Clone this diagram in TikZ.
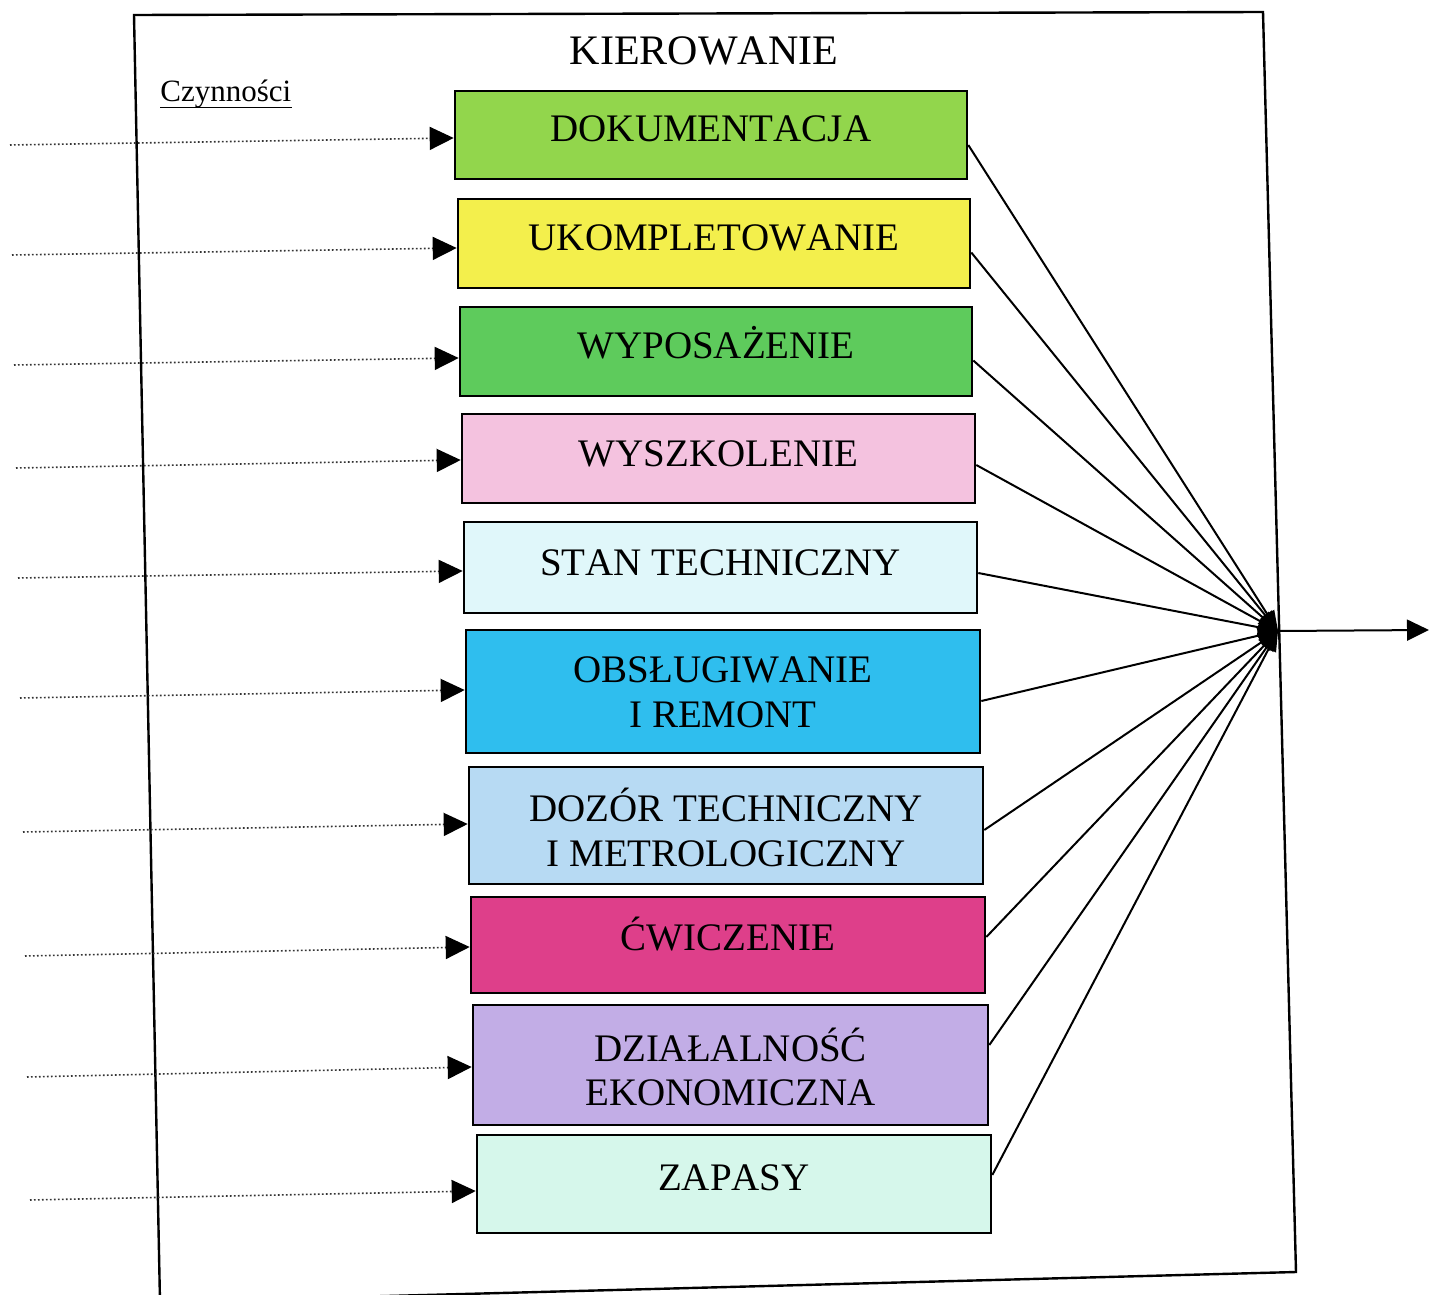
\documentclass[tikz,border=0pt]{standalone}
\usepackage{fontspec}
\setmainfont{Liberation Serif}[Kerning=Off]
\usetikzlibrary{arrows.meta,fit}

\definecolor{cDok}{HTML}{92D64C}
\definecolor{cUkom}{HTML}{F3EF4C}
\definecolor{cWyp}{HTML}{5ECB5C}
\definecolor{cWysz}{HTML}{F4C2DF}
\definecolor{cStan}{HTML}{E0F7FA}
\definecolor{cObs}{HTML}{2FBEEE}
\definecolor{cDoz}{HTML}{B7DAF3}
\definecolor{cCwi}{HTML}{DE3F8A}
\definecolor{cDzi}{HTML}{C2ADE6}
\definecolor{cZap}{HTML}{D6F7EB}

\begin{document}
\begin{tikzpicture}[x=0.5pt,y=-0.5pt,
  box/.style={draw=black, line width=1.3pt, inner sep=0pt},
  captext/.style={font=\fontsize{19.5}{23.5}\selectfont, inner sep=0pt, anchor=base},
  feed/.style={draw=black!80, line width=0.8pt, dash pattern=on 0.8pt off 1.2pt,
    -{Triangle[length=12pt,width=11.5pt,color=black]}},
  link/.style={draw=black, line width=1pt,
    -{Triangle[length=10pt,width=8pt,color=black]}},
  outlink/.style={draw=black, line width=1pt,
    -{Triangle[length=11pt,width=10.5pt,color=black]}}]

\clip (0,0) rectangle (1430,1295);

% outer frame
\draw[line width=1.2pt] (134,15) -- (1263,12) -- (1296,1272) -- (160,1302) -- cycle;

% headings
\node[font=\fontsize{21}{25}\selectfont, inner sep=0pt, anchor=base] (head) at (704,65) {KIEROWANIE};
\node[font=\fontsize{15.5}{18}\selectfont, inner sep=0pt, anchor=base west] (czyn) at (160,102) {Czynności};
\draw[line width=0.8pt] ([yshift=-2.8pt]czyn.base west) -- ([yshift=-2.8pt]czyn.base east);

% activity boxes
\node[box, fill=cDok,  fit={(455,91)   (967,179)}]  (b1)  {};
\node[box, fill=cUkom, fit={(458,199)  (970,288)}]  (b2)  {};
\node[box, fill=cWyp,  fit={(460,307)  (972,396)}]  (b3)  {};
\node[box, fill=cWysz, fit={(462,414)  (975,503)}]  (b4)  {};
\node[box, fill=cStan, fit={(464,522)  (977,613)}]  (b5)  {};
\node[box, fill=cObs,  fit={(466,630)  (980,753)}]  (b6)  {};
\node[box, fill=cDoz,  fit={(469,767)  (983,884)}]  (b7)  {};
\node[box, fill=cCwi,  fit={(471,897)  (985,993)}]  (b8)  {};
\node[box, fill=cDzi,  fit={(473,1005) (988,1125)}] (b9)  {};
\node[box, fill=cZap,  fit={(477,1135) (991,1233)}] (b10) {};

% box captions
\node[captext] (t1)  at (711,141)   {DOKUMENTACJA};
\node[captext] (t2)  at (714,250)   {UKOMPLETOWANIE};
\node[captext] (t3)  at (716,358)   {WYPOSAŻENIE};
\node[captext] (t4)  at (718.5,466) {WYSZKOLENIE};
\node[captext] (t5)  at (720.5,575) {STAN TECHNICZNY};
\node[captext] (t6a) at (723,682)   {OBSŁUGIWANIE};
\node[captext] (t6b) at (723,727)   {I REMONT};
\node[captext] (t7a) at (726,821)   {DOZÓR TECHNICZNY};
\node[captext] (t7b) at (726,866)   {I METROLOGICZNY};
\node[captext] (t8)  at (728,950)   {ĆWICZENIE};
\node[captext] (t9a) at (730.5,1061) {DZIAŁALNOŚĆ};
\node[captext] (t9b) at (730.5,1105) {EKONOMICZNA};
\node[captext] (t10) at (734,1190)  {ZAPASY};

% free ends of the incoming dotted lines
\coordinate (s1)  at (10,145);
\coordinate (s2)  at (12,255);
\coordinate (s3)  at (14,365);
\coordinate (s4)  at (16,468);
\coordinate (s5)  at (18,578);
\coordinate (s6)  at (20,698);
\coordinate (s7)  at (23,832);
\coordinate (s8)  at (25,956);
\coordinate (s9)  at (27,1077);
\coordinate (s10) at (30,1200);

% incoming dotted arrows
\foreach \i/\dy in {1/-1.5,2/-2.25,3/-3.25,4/-0.75,5/-1.75,6/0.75,7/0.75,8/-1,9/-1,10/-3.5}
  \draw[feed] (s\i) -- ([yshift=\dy pt]b\i.west);

% converging point and output
\coordinate (hub) at (1278,631);
\coordinate (out) at (1429,630);

\foreach \i/\dy in {1/-5,2/-4.5,3/-4.5,4/-3.25,5/-2.75,6/-4.75,7/-2.25,8/4,9/10,10/4.5}
  \draw[link] ([yshift=\dy pt]b\i.east) -- (hub);

\draw[outlink] (hub) -- (out);
\end{tikzpicture}
\end{document}
